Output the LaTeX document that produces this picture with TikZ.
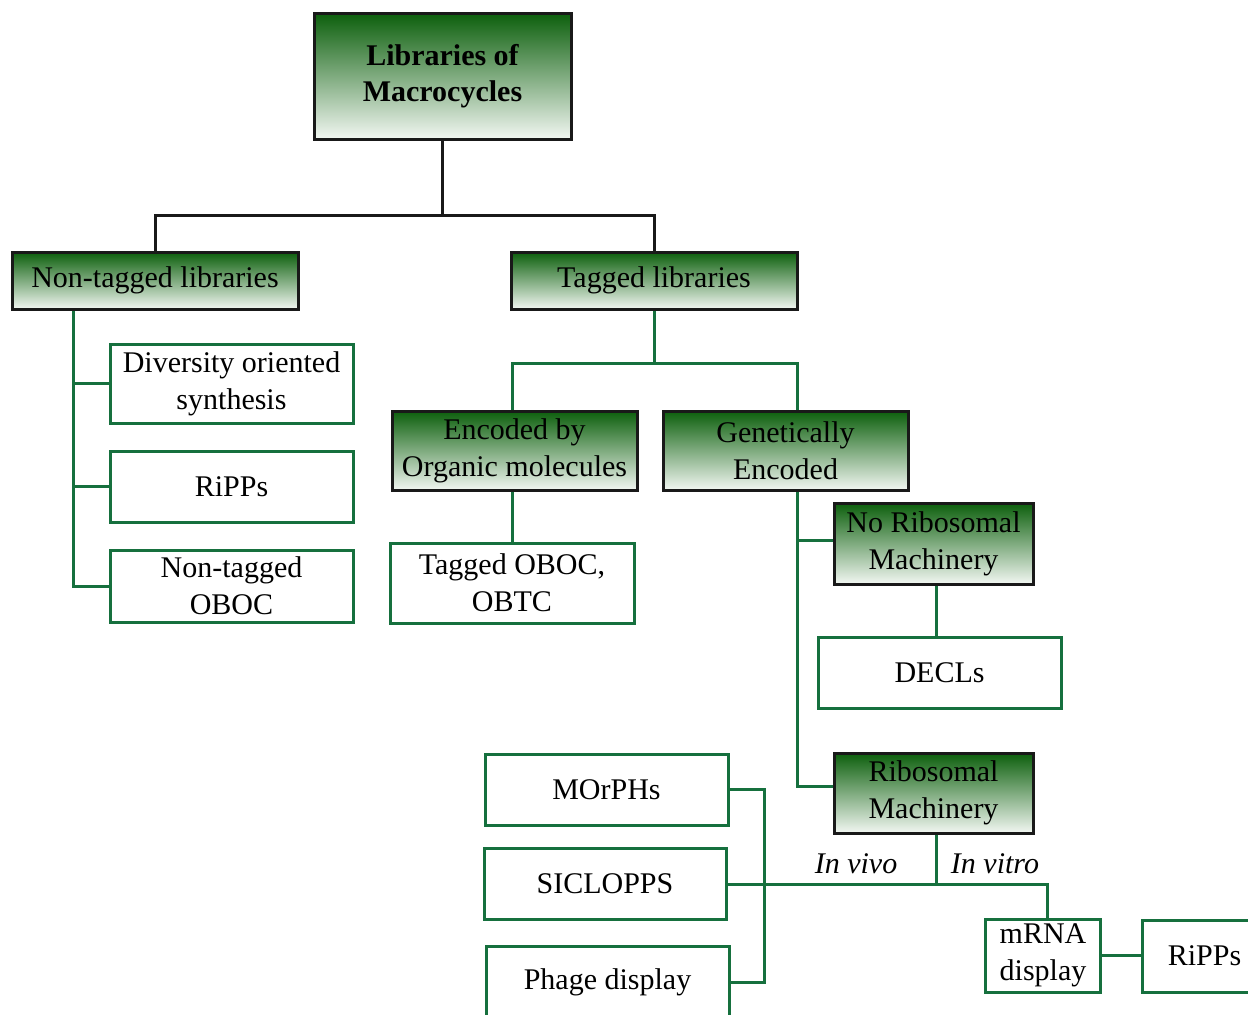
\documentclass[tikz,border=0pt]{standalone}
\usepackage{fontspec}
\setmainfont{Liberation Serif}
\usetikzlibrary{calc}
\definecolor{lgreen}{RGB}{22,112,62}
\definecolor{gtop}{RGB}{12,95,12}
\definecolor{gmid}{RGB}{100,160,100}
\definecolor{gbot}{RGB}{242,247,242}
\begin{document}
\begin{tikzpicture}[x=0.5pt,y=-0.5pt,
  every node/.style={font=\fontsize{15}{18.5}\selectfont, align=center, inner sep=0pt},
  gbox/.style={draw=black!90, line width=1.5pt, top color=gtop, middle color=gmid, bottom color=gbot, rectangle},
  wbox/.style={draw=lgreen, line width=1.5pt, fill=white, rectangle},
  gline/.style={draw=lgreen, line width=1.5pt},
  bline/.style={draw=black!90, line width=1.5pt},
  lbl/.style={font=\fontsize{15}{18.5}\selectfont\itshape}
]
\useasboundingbox (0,0) rectangle (1248,1014);
\clip (0,0) rectangle (1248,1014);
% nodes
\node[gbox, minimum width=128.5pt, minimum height=63pt, font=\fontsize{15}{18}\selectfont\bfseries] (top) at (442.5,76) {Libraries of\\Macrocycles};
\node[gbox, minimum width=143pt, minimum height=28.5pt] (nontag) at (155,280.5) {Non-tagged libraries};
\node[gbox, minimum width=143pt, minimum height=28.5pt] (tag) at (654,280.5) {Tagged libraries};
\node[wbox, minimum width=121.5pt, minimum height=39.5pt] (dos) at (231.5,383.5) {Diversity oriented\\synthesis};
\node[wbox, minimum width=121.5pt, minimum height=35.5pt] (ripps1) at (231.5,486.5) {RiPPs};
\node[wbox, minimum width=121.5pt, minimum height=36pt] (ntoboc) at (231.5,586) {Non-tagged\\OBOC};
\node[gbox, minimum width=122.5pt, minimum height=39.5pt] (enc) at (514.5,450.5) {Encoded by\\Organic molecules};
\node[gbox, minimum width=122.5pt, minimum height=39.5pt] (gen) at (785.5,450.5) {Genetically\\Encoded};
\node[wbox, minimum width=122pt, minimum height=40pt] (toboc) at (512,583) {Tagged OBOC,\\OBTC};
\node[gbox, minimum width=99.5pt, minimum height=40.5pt] (noribo) at (933.5,543.5) {No Ribosomal\\Machinery};
\node[wbox, minimum width=121.5pt, minimum height=35.5pt] (decl) at (939.5,672.5) {DECLs};
\node[gbox, minimum width=99.5pt, minimum height=40pt] (ribo) at (933.5,793) {Ribosomal\\Machinery};
\node[wbox, minimum width=121.5pt, minimum height=35.5pt] (morphs) at (606.5,789.5) {MOrPHs};
\node[wbox, minimum width=121pt, minimum height=35.5pt] (siclo) at (605,884) {SICLOPPS};
\node[wbox, minimum width=121.5pt, minimum height=36pt] (phage) at (607.5,982) {Phage display};
\node[wbox, minimum width=57.5pt, minimum height=36.5pt] (mrna) at (1043,955.5) {mRNA\\display};
\node[wbox, minimum width=62.5pt, minimum height=36pt] (ripps2) at (1204.5,956) {RiPPs};
% coordinates
\coordinate (cL) at (73,0);
\coordinate (cG) at (797,0);
\coordinate (cP) at (764,0);
\coordinate (cR) at (936,0);
\coordinate (cM) at (1047,0);
\coordinate (yN) at (0,540);
\coordinate (yR) at (0,786);
% black connectors
\draw[bline] (top.south) -- ++(0,75) coordinate (j1);
\draw[bline] (nontag.north) |- (j1) -| (tag.north);
% non-tagged branch
\draw[gline] (nontag.south -| cL) |- (ntoboc.west);
\draw[gline] (cL |- dos.west) -- (dos.west);
\draw[gline] (cL |- ripps1.west) -- (ripps1.west);
% tagged branch
\draw[gline] (tag.south) -- ++(0,53) coordinate (j2);
\draw[gline] (enc.north -| toboc.north) |- (j2) -| (gen.north -| cG);
\draw[gline] (enc.south -| toboc.north) -- (toboc.north);
\draw[gline] (gen.south -| cG) |- (ribo.west |- yR);
\draw[gline] (cG |- yN) -- (noribo.west |- yN);
\draw[gline] (noribo.south -| cR) -- (decl.north -| cR);
% ribosomal
\draw[gline] (ribo.south -| cR) -- ++(0,51) coordinate (j3);
\draw[gline] (siclo.east) -| (mrna.north -| cM);
\draw[gline] (morphs.east) -| (cP |- phage.east) -- (phage.east);
\draw[gline] (mrna.east) -- (mrna.east -| ripps2.west);
% labels
\node[lbl] (invivo) at (856,864) {In vivo};
\node[lbl] (invitro) at (995,864) {In vitro};
\end{tikzpicture}
\end{document}
